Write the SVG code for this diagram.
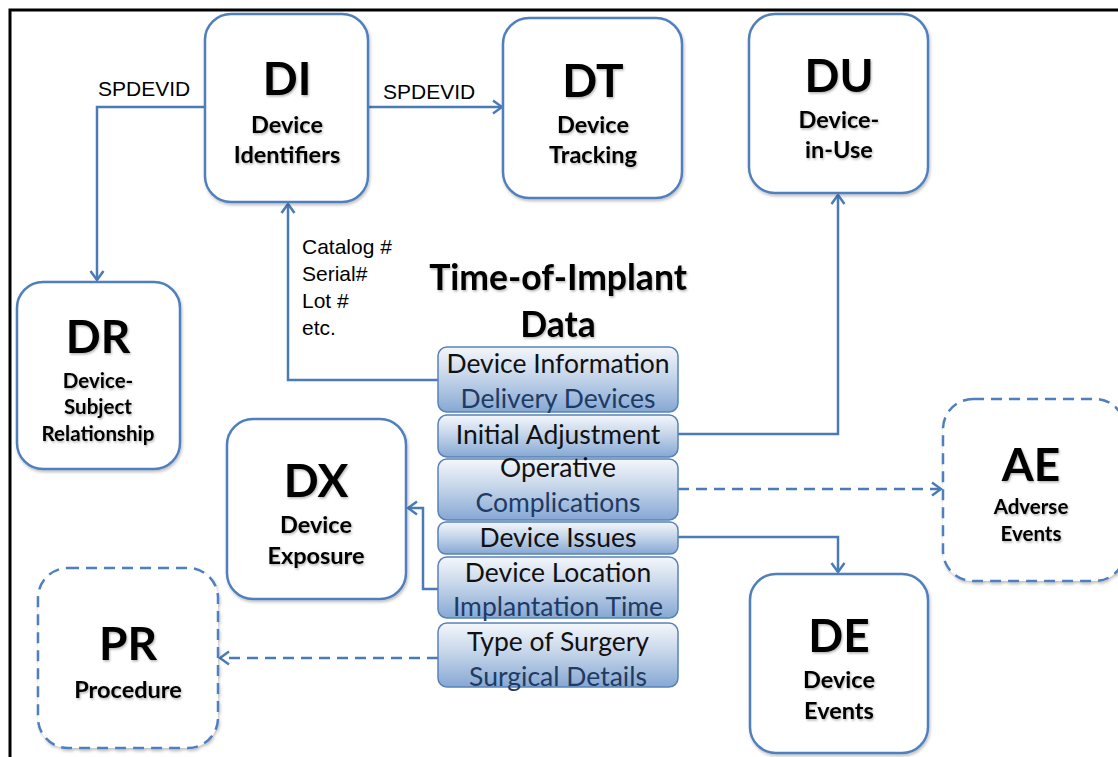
<svg xmlns="http://www.w3.org/2000/svg" width="1118" height="757" viewBox="0 0 1118 757">
<style>
.node{fill:#fff;stroke:#4f7fbd;stroke-width:2.5;filter:url(#bs)}
.dash{stroke-dasharray:11 7}
.t{font-family:Lato,"Liberation Sans",sans-serif;font-weight:bold;fill:#000;text-anchor:middle;filter:url(#ts)}
.big{font-size:46px}
.sub{font-size:23.5px}
.sub2{font-size:20.5px}
.lbl{font-family:"Liberation Sans",Arial,sans-serif;font-size:21px;fill:#000}
.ti{font-family:Lato,"Liberation Sans",sans-serif;font-size:26.5px;text-anchor:middle}
.k{fill:#111}
.b{fill:#1f3b63}
.sb{fill:url(#g);stroke:#5a82b6;stroke-width:1.5}
.c{fill:none;stroke:#4a7bb7;stroke-width:2.5}
</style>
<defs>
<linearGradient id="g" x1="0" y1="0" x2="0" y2="1">
<stop offset="0" stop-color="#f4f7fb"/>
<stop offset="0.45" stop-color="#c6d6ea"/>
<stop offset="1" stop-color="#86a8d4"/>
</linearGradient>
<filter id="ts" x="-10%" y="-20%" width="130%" height="150%">
<feDropShadow dx="1" dy="1.5" stdDeviation="1" flood-color="#000" flood-opacity="0.3"/>
</filter>
<filter id="bs" x="-10%" y="-10%" width="125%" height="125%">
<feDropShadow dx="1" dy="2" stdDeviation="1.5" flood-color="#000" flood-opacity="0.25"/>
</filter>
<marker id="a" markerUnits="userSpaceOnUse" viewBox="0 0 12 16" refX="10" refY="8" markerWidth="12" markerHeight="16" orient="auto">
<path d="M1,1.5 L10,8 L1,14.5" fill="none" stroke="#4a7bb7" stroke-width="2.5"/>
</marker>
</defs>
<rect x="10" y="10" width="1120" height="760" fill="#fff" stroke="#000" stroke-width="3"/>

<g id="connectors">
<path class="c" d="M205,107 H97 V280" marker-end="url(#a)"/>
<path class="c" d="M368,107 H502" marker-end="url(#a)"/>
<path class="c" d="M438,380 H288 V204" marker-end="url(#a)"/>
<path class="c" d="M678,434 H838 V195" marker-end="url(#a)"/>
<path class="c dash" d="M678,489 H941" marker-end="url(#a)"/>
<path class="c" d="M678,537 H838 V572" marker-end="url(#a)"/>
<path class="c" d="M438,589 H423 V508 H408" marker-end="url(#a)"/>
<path class="c dash" d="M438,658 H220" marker-end="url(#a)"/>
<text class="lbl" x="98" y="96">SPDEVID</text>
<text class="lbl" x="383" y="99">SPDEVID</text>
<text class="lbl" x="302" y="254">Catalog #</text>
<text class="lbl" x="302" y="281">Serial#</text>
<text class="lbl" x="302" y="308">Lot #</text>
<text class="lbl" x="302" y="335">etc.</text>
</g>

<g id="DI">
<rect class="node" x="205" y="14" width="163" height="188" rx="26"/>
<text class="t big" x="287" y="95">DI</text>
<text class="t sub" x="287" y="133">Device</text>
<text class="t sub" x="287" y="163">Identifiers</text>
</g>
<g id="DT">
<rect class="node" x="503" y="18" width="179" height="180" rx="26"/>
<text class="t big" x="593" y="97">DT</text>
<text class="t sub" x="593" y="133">Device</text>
<text class="t sub" x="593" y="163">Tracking</text>
</g>
<g id="DU">
<rect class="node" x="749" y="14" width="179" height="179" rx="26"/>
<text class="t big" x="839" y="92">DU</text>
<text class="t sub" x="839" y="128">Device-</text>
<text class="t sub" x="839" y="158">in-Use</text>
</g>
<g id="DR">
<rect class="node" x="17" y="282" width="163" height="187" rx="26"/>
<text class="t big" x="98" y="353">DR</text>
<text class="t sub2" x="98" y="388">Device-</text>
<text class="t sub2" x="98" y="414">Subject</text>
<text class="t sub2" x="98" y="441">Relationship</text>
</g>
<g id="DX">
<rect class="node" x="227" y="419" width="179" height="180" rx="26"/>
<text class="t big" x="316" y="497">DX</text>
<text class="t sub" x="316" y="533">Device</text>
<text class="t sub" x="316" y="564">Exposure</text>
</g>
<g id="PR">
<rect class="node dash" x="38" y="568" width="180" height="180" rx="30"/>
<text class="t big" x="128" y="660">PR</text>
<text class="t sub" x="128" y="698">Procedure</text>
</g>
<g id="AE">
<rect class="node dash" x="943" y="399" width="182" height="182" rx="30"/>
<text class="t big" x="1031" y="481">AE</text>
<text class="t sub2" x="1031" y="514">Adverse</text>
<text class="t sub2" x="1031" y="541">Events</text>
</g>
<g id="DE">
<rect class="node" x="750" y="574" width="178" height="179" rx="26"/>
<text class="t big" x="839" y="652">DE</text>
<text class="t sub" x="839" y="688">Device</text>
<text class="t sub" x="839" y="719">Events</text>
</g>

<g id="TOI">
<text class="t" style="font-size:35.5px" x="558" y="290">Time-of-Implant</text>
<text class="t" style="font-size:35.5px" x="558" y="337">Data</text>
</g>
<g id="S1">
<rect class="sb" x="438" y="347" width="240" height="65" rx="9"/>
<text class="ti k" x="558" y="373">Device Information</text>
<text class="ti b" x="558" y="408">Delivery Devices</text>
</g>
<g id="S2">
<rect class="sb" x="438" y="415" width="240" height="42" rx="9"/>
<text class="ti k" x="558" y="444">Initial Adjustment</text>
</g>
<g id="S3">
<rect class="sb" x="438" y="459" width="240" height="61" rx="9"/>
<text class="ti k" x="558" y="477">Operative</text>
<text class="ti b" x="558" y="512">Complications</text>
</g>
<g id="S4">
<rect class="sb" x="438" y="522" width="240" height="32" rx="8"/>
<text class="ti k" x="558" y="547">Device Issues</text>
</g>
<g id="S5">
<rect class="sb" x="438" y="557" width="240" height="61" rx="9"/>
<text class="ti k" x="558" y="582">Device Location</text>
<text class="ti b" x="558" y="616">Implantation Time</text>
</g>
<g id="S6">
<rect class="sb" x="438" y="623" width="240" height="64" rx="9"/>
<text class="ti k" x="558" y="651">Type of Surgery</text>
<text class="ti b" x="558" y="686">Surgical Details</text>
</g>
</svg>
